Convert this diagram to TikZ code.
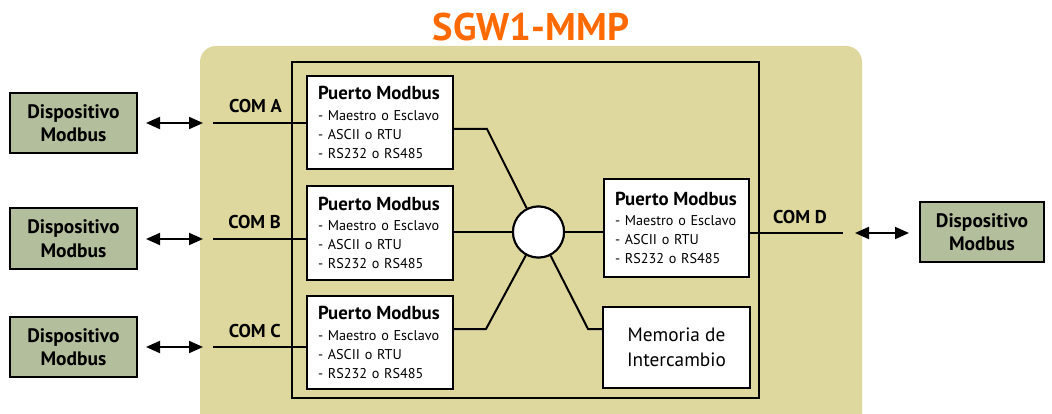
\documentclass[tikz,border=0pt]{standalone}
\usepackage{fontspec}
\setmainfont{PT Sans}
\usetikzlibrary{arrows.meta}
\definecolor{bgtan}{HTML}{DFD89E}
\definecolor{devgreen}{HTML}{B3BE9D}
\definecolor{titleorange}{HTML}{FF6A00}
\tikzset{
  dev/.style={draw=black, line width=2pt, fill=devgreen, minimum width=127pt, minimum height=60pt, inner sep=0pt, align=center, font=\fontsize{19.5}{23.5}\selectfont\bfseries},
  port/.style={draw=black, line width=2pt, fill=white, text width=124pt, inner xsep=11pt, inner ysep=0pt, minimum height=93pt, align=left, font=\fontsize{14.2}{19}\selectfont},
  mem/.style={draw=black, line width=2pt, fill=white, minimum width=147pt, minimum height=81pt, inner sep=0pt, align=center, font=\fontsize{19.3}{25}\selectfont},
  hub/.style={circle, draw=black, line width=2pt, fill=white, minimum size=51pt, inner sep=0pt},
  wire/.style={line width=2pt, black},
  biarrow/.style={line width=2pt, {Triangle[length=14pt,width=12pt]}-{Triangle[length=14pt,width=12pt]}},
  comlbl/.style={font=\fontsize{18.5}{20}\selectfont\bfseries, inner sep=0pt},
}
\newcommand{\portcontent}{{\bfseries\fontsize{18.8}{19}\selectfont Puerto Modbus}\\[1.5pt]- Maestro o Esclavo\\- ASCII o RTU\\- RS232 o RS485}
\begin{document}
\begin{tikzpicture}[x=1pt,y=-1pt]
\useasboundingbox (0,0) rectangle (1052,414);
\clip (0,0) rectangle (1052,414);
\fill[white] (0,0) rectangle (1052,414);
% background panel
\fill[bgtan, rounded corners=16pt] (200,46) rectangle (862,440);
% title
\node[font=\fontsize{38.5}{40}\selectfont\bfseries, text=titleorange, inner sep=0pt] (title) at (531,27) {SGW1-MMP};
% inner frame
\draw[line width=2pt] (292,62) rectangle (759,398);
% ports
\node[port] (pa) at (380,122.5) {\portcontent};
\node[port] (pb) at (380,233) {\portcontent};
\node[port] (pc) at (380,342.5) {\portcontent};
\node[port, text width=123pt, minimum height=98pt] (pd) at (676.5,228) {\portcontent};
\node[mem] (mm) at (676.5,347.5) {Memoria de\\Intercambio};
\node[hub] (hub) at (538.5,232) {};
% devices
\node[dev] (da) at (73.5,123) {Dispositivo\\Modbus};
\node[dev] (db) at (73.5,238.5) {Dispositivo\\Modbus};
\node[dev] (dc) at (73.5,347) {Dispositivo\\Modbus};
\node[dev, minimum width=124pt] (dd) at (982,232) {Dispositivo\\Modbus};
% COM coordinates
\coordinate (ca) at (213,123);
\coordinate (cb) at (213,239);
\coordinate (cc) at (213,347);
\coordinate (cd) at (843,233);
\coordinate (aa1) at (146,123); \coordinate (aa2) at (203,123);
\coordinate (ab1) at (146,239); \coordinate (ab2) at (203,239);
\coordinate (ac1) at (146,347); \coordinate (ac2) at (203,347);
\coordinate (ad1) at (855,233); \coordinate (ad2) at (909,233);
\draw[biarrow] (aa1) -- (aa2);
\draw[biarrow] (ab1) -- (ab2);
\draw[biarrow] (ac1) -- (ac2);
\draw[biarrow] (ad1) -- (ad2);
% COM wires
\draw[wire] (ca) -- (ca -| pa.west);
\draw[wire] (cb) -- (cb -| pb.west);
\draw[wire] (cc) -- (cc -| pc.west);
\draw[wire] (cd -| pd.east) -- (cd);
\node[comlbl, anchor=base east] (la) at (282,113) {COM A};
\node[comlbl, anchor=base east] (lb) at (281,229) {COM B};
\node[comlbl, anchor=base east] (lc) at (281,337) {COM C};
\node[comlbl, anchor=base west] (ld) at (773,223) {COM D};
% internal connections
\coordinate (ja) at (487,129);
\coordinate (jc) at (486,329);
\coordinate (jm) at (588,329);
\draw[wire] (ja -| pa.east) -- (ja) -- (hub);
\draw[wire] (jc -| pc.east) -- (jc) -- (hub);
\draw[wire] (hub) -- (hub -| pb.east);
\draw[wire] (hub) -- (hub -| pd.west);
\draw[wire] (hub) -- (jm) -- (jm -| mm.west);
\node[hub] at (hub) {};
\end{tikzpicture}
\end{document}
